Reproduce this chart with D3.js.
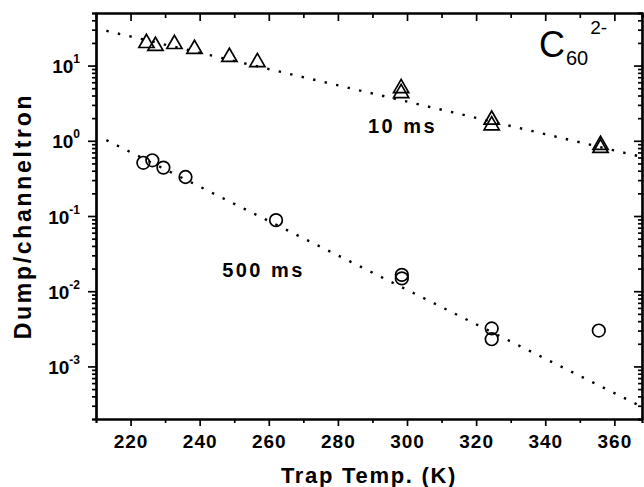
<!DOCTYPE html>
<html>
<head>
<meta charset="utf-8">
<script src="https://cdn.jsdelivr.net/npm/d3@7/dist/d3.min.js"></script>
<style>
  body { margin: 0; background: #fff; }
  svg { display: block; font-family: "Liberation Sans", Arial, sans-serif; }
  .axis path, .axis line { stroke: #000; }
</style>
</head>
<body>
<svg id="chart" width="644" height="487"></svg>
<script>
// ---- data ----
const temps10 = [224.6, 227.2, 232.7, 238.5, 248.6, 256.7, 298.3, 298.3, 324.5, 324.5, 356, 356];
const vals10 = [19.9, 18.2, 19.3, 16.6, 13.0, 11.1, 5.0, 4.3, 1.9, 1.6, 0.88, 0.80];

const temps500 = [223.7, 226.3, 229.5, 235.9, 262.1, 298.5, 298.5, 324.5, 324.5, 355.5];
const vals500 = [0.51, 0.55, 0.44, 0.33, 0.088, 0.0165, 0.0148, 0.0032, 0.0023, 0.0030];

// fitted lines (end points)
const fitT = [213, 368];
const fit10 = [29, 0.61];
const fit500 = [1.02, 0.00029];

const xMajor = [220, 240, 260, 280, 300, 320, 340, 360];
const xMinor = [230, 250, 270, 290, 310, 330, 350];
const yMajor = [1e-3, 1e-2, 1e-1, 1, 10];
const yExp = ["-3", "-2", "-1", "0", "1"];

// ---- layout ----
const pL = 96, pR = 642, pT = 13, pB = 419;
const svg = d3.select("#chart");

const x = d3.scaleLinear().domain([210, 368]).range([pL, pR]);
const y = d3.scaleLog().domain([2e-4, 50]).range([pB, pT]);

// minor log ticks
const yMinor = [];
[1e-4, 1e-3, 1e-2, 1e-1, 1, 10].forEach(d => {
  for (let k = 2; k <= 9; k++) {
    const v = d * k;
    if (v >= 2e-4 && v <= 50) yMinor.push(v);
  }
});

function styleAxis(g, w) {
  g.attr("class", "axis");
  g.select(".domain").attr("stroke-width", w);
  g.selectAll(".tick line").attr("stroke-width", 1.7);
}

// bottom
svg.append("g")
  .attr("transform", `translate(0,${pB})`)
  .call(d3.axisBottom(x).tickValues(xMinor).tickSize(4).tickFormat(""))
  .call(g => styleAxis(g, 2.2));
const bx = svg.append("g")
  .attr("transform", `translate(0,${pB})`)
  .call(d3.axisBottom(x).tickValues(xMajor).tickSizeInner(7).tickSizeOuter(0).tickPadding(9))
  .call(g => styleAxis(g, 2.2));
bx.selectAll("text").attr("font-size", 19).attr("font-weight", "bold")
  .attr("fill", "#000").attr("letter-spacing", 1);

// top
svg.append("g")
  .attr("transform", `translate(0,${pT})`)
  .call(d3.axisTop(x).tickValues(xMinor).tickSize(-5).tickFormat(""))
  .call(g => styleAxis(g, 2.2));
svg.append("g")
  .attr("transform", `translate(0,${pT})`)
  .call(d3.axisTop(x).tickValues(xMajor).tickSizeInner(-8).tickSizeOuter(0).tickFormat(""))
  .call(g => styleAxis(g, 2.2));

// left
svg.append("g")
  .attr("transform", `translate(${pL},0)`)
  .call(d3.axisLeft(y).tickValues(yMinor).tickSize(4).tickFormat(""))
  .call(g => styleAxis(g, 2.2));
const ly = svg.append("g")
  .attr("transform", `translate(${pL},0)`)
  .call(d3.axisLeft(y).tickValues(yMajor).tickSizeInner(8).tickSizeOuter(0).tickFormat(""))
  .call(g => styleAxis(g, 2.2));
ly.selectAll(".tick").each(function(d, i) {
  const t = d3.select(this).append("text")
    .attr("x", -16).attr("y", 7)
    .attr("text-anchor", "end")
    .attr("fill", "#000")
    .attr("font-weight", "bold")
    .attr("font-size", 19);
  t.append("tspan").text("10");
  t.append("tspan").attr("dy", -10).attr("font-size", 12).text(yExp[i]);
});

// right
svg.append("g")
  .attr("transform", `translate(${pR},0)`)
  .call(d3.axisRight(y).tickValues(yMinor).tickSize(-4).tickFormat(""))
  .call(g => styleAxis(g, 2.2));
svg.append("g")
  .attr("transform", `translate(${pR},0)`)
  .call(d3.axisRight(y).tickValues(yMajor).tickSizeInner(-8).tickSizeOuter(0).tickFormat(""))
  .call(g => styleAxis(g, 2.2));

// fit lines
const plot = svg.append("g");
plot.append("clipPath").attr("id", "clip")
  .append("rect").attr("x", pL).attr("y", pT).attr("width", pR - pL).attr("height", pB - pT);

const line = d3.line().x(d => x(d[0])).y(d => y(d[1]));
[fit10, fit500].forEach(f => {
  plot.append("path")
    .attr("d", line(fitT.map((t, i) => [t, f[i]])))
    .attr("clip-path", "url(#clip)")
    .attr("fill", "none")
    .attr("stroke", "#000")
    .attr("stroke-width", 2.4)
    .attr("stroke-dasharray", "2.4 9.4");
});

// triangles
const tri = d3.symbol().type(d3.symbolTriangle).size(100);
plot.selectAll(".tri")
  .data(temps10.map((t, i) => [t, vals10[i]]))
  .join("path")
  .attr("class", "tri")
  .attr("d", tri)
  .attr("transform", d => `translate(${x(d[0])},${y(d[1])})`)
  .attr("fill", "none")
  .attr("stroke", "#000")
  .attr("stroke-width", 1.7);

// circles
plot.selectAll(".circ")
  .data(temps500.map((t, i) => [t, vals500[i]]))
  .join("circle")
  .attr("class", "circ")
  .attr("cx", d => x(d[0]))
  .attr("cy", d => y(d[1]))
  .attr("r", 6.3)
  .attr("fill", "none")
  .attr("stroke", "#000")
  .attr("stroke-width", 1.7);

// series labels
svg.append("text").attr("x", x(288.7)).attr("y", y(1.27))
  .attr("font-size", 20).attr("font-weight", "bold").attr("letter-spacing", 2.5).text("10 ms");
svg.append("text").attr("x", x(246.5)).attr("y", y(0.0155))
  .attr("font-size", 20).attr("font-weight", "bold").attr("letter-spacing", 2.5).text("500 ms");

// C60 2- label
const c = svg.append("text").attr("x", 539).attr("y", 57).attr("font-size", 36);
c.append("tspan").text("C");
c.append("tspan").attr("font-size", 20).attr("dy", 8).attr("dx", 1).text("60");
c.append("tspan").attr("font-size", 19).attr("dy", -31).attr("dx", 2).text("2-");

// axis titles
svg.append("text")
  .attr("x", (pL + pR) / 2).attr("y", 483)
  .attr("text-anchor", "middle")
  .attr("font-size", 22).attr("font-weight", "bold").attr("letter-spacing", 1.7)
  .text("Trap Temp. (K)");
svg.append("text")
  .attr("transform", `translate(31,${(pT + pB) / 2}) rotate(-90)`)
  .attr("text-anchor", "middle")
  .attr("font-size", 23).attr("font-weight", "bold").attr("letter-spacing", 2.7)
  .text("Dump/channeltron");
</script>
</body>
</html>
